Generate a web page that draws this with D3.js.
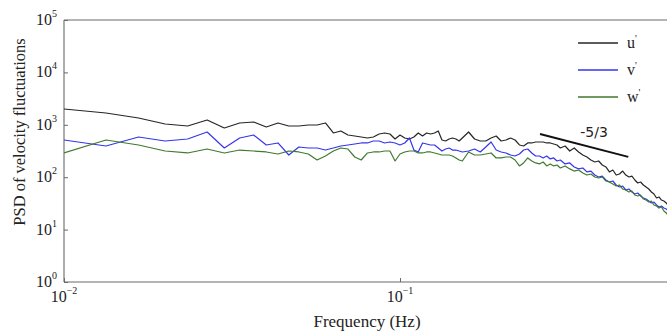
<!DOCTYPE html>
<html>
<head>
<meta charset="utf-8">
<script src="https://cdn.jsdelivr.net/npm/d3@7"></script>
<style>
  body { margin: 0; background: #fff; }
  svg { display: block; }
</style>
</head>
<body>
<svg id="chart" width="667" height="335"></svg>
<script>
// Spectral estimate frequencies (Hz)
const freqs = [
  0.01, 0.01333, 0.01667, 0.02, 0.02333, 0.02667, 0.03, 0.03333, 0.03667, 0.04,
  0.04333, 0.04667, 0.05, 0.05333, 0.05667, 0.06, 0.06333, 0.06667, 0.07, 0.07333,
  0.07667, 0.08, 0.08333, 0.08667, 0.09, 0.09333, 0.09667, 0.1, 0.1033, 0.1067,
  0.11, 0.1133, 0.1167, 0.12, 0.1233, 0.1267, 0.13, 0.1333, 0.1367, 0.14,
  0.1433, 0.1467, 0.15, 0.1533, 0.16, 0.1667, 0.1733, 0.18, 0.1867, 0.1933,
  0.2, 0.2067, 0.2133, 0.22, 0.2267, 0.2333, 0.24, 0.2467, 0.2533, 0.26,
  0.2667, 0.2733, 0.28, 0.2867, 0.2933, 0.3, 0.31, 0.32, 0.33, 0.34,
  0.35, 0.36, 0.37, 0.38, 0.39, 0.4, 0.41, 0.42, 0.43, 0.44,
  0.45, 0.46, 0.47, 0.48, 0.49, 0.5, 0.51, 0.52, 0.53, 0.54,
  0.55, 0.56, 0.57, 0.58, 0.59, 0.6, 0.61, 0.62, 0.63
];

// PSD of u' fluctuations
const psdU = [
  2002, 1680, 1349, 1036, 949, 1235, 869, 1083, 1131, 908,
  1083, 949, 949, 991, 991, 1083, 698, 762, 638, 611,
  585, 560, 585, 667, 698, 667, 536, 638, 560, 536,
  585, 698, 611, 698, 667, 698, 762, 513, 491, 536,
  560, 536, 491, 560, 729, 536, 491, 491, 560, 611,
  491, 513, 560, 513, 412, 394, 450, 450, 470, 470,
  470, 450, 450, 430, 412, 361, 394, 316, 361, 303,
  265, 243, 213, 195, 204, 171, 157, 126, 137, 110,
  115, 131, 110, 101, 105, 88.4, 77.5, 81.0, 71.0, 65.0,
  59.5, 52.2, 47.8, 40.1, 41.9, 36.7, 35.1, 32.2, 28.2
];

// PSD of v' fluctuations
const psdV = [
  513, 394, 585, 491, 536, 729, 361, 560, 638, 412,
  450, 265, 377, 361, 361, 330, 361, 394, 412, 430,
  450, 450, 491, 491, 450, 470, 450, 412, 450, 560,
  330, 303, 450, 430, 412, 412, 361, 316, 345, 361,
  330, 330, 316, 303, 316, 345, 303, 377, 470, 330,
  303, 290, 265, 254, 277, 330, 345, 290, 254, 254,
  233, 254, 223, 233, 204, 213, 179, 187, 157, 144,
  150, 126, 131, 110, 101, 105, 88.4, 81.0, 84.6, 71.0,
  65.0, 67.9, 57.0, 59.5, 52.2, 47.8, 49.9, 43.8, 40.1, 38.4,
  35.1, 32.2, 33.6, 29.5, 27.0, 28.2, 25.8, 24.7, 22.7
];

// PSD of w' fluctuations
const psdW = [
  290, 513, 412, 316, 290, 345, 290, 330, 316, 303,
  277, 316, 303, 277, 213, 254, 316, 361, 345, 243,
  213, 290, 303, 303, 316, 316, 204, 277, 303, 316,
  316, 290, 290, 303, 303, 290, 277, 265, 265, 265,
  254, 233, 213, 204, 303, 265, 265, 277, 290, 233,
  233, 243, 243, 213, 164, 187, 233, 204, 187, 179,
  195, 164, 179, 164, 171, 150, 164, 144, 131, 137,
  120, 110, 115, 101, 96.5, 101, 84.6, 81.0, 74.2, 67.9,
  71.0, 59.5, 57.0, 52.2, 54.5, 45.7, 43.8, 45.7, 38.4, 36.7,
  33.6, 35.1, 29.5, 28.2, 25.8, 27.0, 22.7, 20.8, 18.2
];

const seriesLabels = ["u", "v", "w"];
const seriesColors = ["#262626", "#3535ee", "#3f7a2e"];
const yTickExponents = [0, 1, 2, 3, 4, 5];
const xTickExponents = [-2, -1];
const slopeText = "-5/3";
const slopeValue = -5 / 3;
const slopeFreqs = [0.261, 0.478];
const slopeStartPsd = 670;

const svg = d3.select("#chart");
const W = 667, H = 335;
const plot = { left: 64, top: 20, bottom: 282 };

const x = d3.scaleLog().domain([0.01, 1]).range([plot.left, plot.left + 672]);
const y = d3.scaleLog().domain([1, 1e5]).range([plot.bottom, plot.top]);

svg.append("rect").attr("width", W).attr("height", H).attr("fill", "#fff");

svg.append("defs").append("clipPath").attr("id", "plotClip")
  .append("rect")
  .attr("x", plot.left).attr("y", plot.top)
  .attr("width", W - plot.left).attr("height", plot.bottom - plot.top);

// Frame: left, bottom and top spines
const frame = svg.append("g").attr("stroke", "#6a6a6a").attr("stroke-width", 1.1).attr("fill", "none");
frame.append("line").attr("x1", plot.left).attr("x2", plot.left).attr("y1", plot.top).attr("y2", plot.bottom);
frame.append("line").attr("x1", plot.left).attr("x2", W).attr("y1", plot.bottom).attr("y2", plot.bottom);
frame.append("line").attr("x1", plot.left).attr("x2", W).attr("y1", plot.top).attr("y2", plot.top);

// Axes with inward ticks; labels drawn separately as powers of ten
const yAxis = d3.axisLeft(y).tickValues(yTickExponents.map(e => Math.pow(10, e)))
  .tickSizeInner(-4).tickSizeOuter(0).tickFormat("");
const yg = svg.append("g").attr("transform", `translate(${plot.left},0)`).call(yAxis);
const xAxis = d3.axisBottom(x).tickValues(xTickExponents.map(e => Math.pow(10, e)))
  .tickSizeInner(-4).tickSizeOuter(0).tickFormat("");
const xg = svg.append("g").attr("transform", `translate(0,${plot.bottom})`).call(xAxis);
[yg, xg].forEach(g => {
  g.select(".domain").remove();
  g.selectAll(".tick line").attr("stroke", "#6a6a6a");
});

const serif = "'Liberation Serif', 'Times New Roman', serif";

function powerLabel(sel, exp) {
  sel.append("tspan").text("10");
  sel.append("tspan").attr("font-size", 10).attr("dy", -8)
    .text(exp < 0 ? "\u2212" + Math.abs(exp) : String(exp));
}

yTickExponents.forEach(e => {
  const t = svg.append("text")
    .attr("x", 57).attr("y", y(Math.pow(10, e)) + 5)
    .attr("text-anchor", "end")
    .attr("font-family", serif).attr("font-size", 16).attr("fill", "#222");
  powerLabel(t, e);
});

xTickExponents.forEach(e => {
  const t = svg.append("text")
    .attr("x", x(Math.pow(10, e))).attr("y", 302)
    .attr("text-anchor", "middle")
    .attr("font-family", serif).attr("font-size", 16).attr("fill", "#222");
  powerLabel(t, e);
});

svg.append("text")
  .attr("x", 367).attr("y", 327)
  .attr("text-anchor", "middle")
  .attr("font-family", serif).attr("font-size", 17).attr("fill", "#222")
  .text("Frequency (Hz)");

svg.append("text")
  .attr("transform", "translate(25,132) rotate(-90)")
  .attr("text-anchor", "middle")
  .attr("font-family", serif).attr("font-size", 16.5).attr("fill", "#222")
  .text("PSD of velocity fluctuations");

// Spectra
const line = d3.line().x(d => x(d[0])).y(d => y(d[1]));
const series = [psdU, psdV, psdW];
const lines = svg.append("g").attr("clip-path", "url(#plotClip)");
series.forEach((vals, i) => {
  lines.append("path")
    .datum(freqs.map((f, j) => [f, vals[j]]))
    .attr("fill", "none")
    .attr("stroke", seriesColors[i])
    .attr("stroke-width", 1.2)
    .attr("stroke-linejoin", "round")
    .attr("d", line);
});

// Reference slope for the inertial subrange
const slopePts = slopeFreqs.map(f => [f, slopeStartPsd * Math.pow(f / slopeFreqs[0], slopeValue)]);
svg.append("path")
  .datum(slopePts)
  .attr("fill", "none").attr("stroke", "#111").attr("stroke-width", 2)
  .attr("d", line);
svg.append("text")
  .attr("x", 594).attr("y", 137)
  .attr("text-anchor", "middle")
  .attr("font-family", "'DejaVu Sans', sans-serif").attr("font-size", 14).attr("fill", "#222")
  .text(slopeText);

// Legend
const legendRows = [43, 70, 97];
seriesLabels.forEach((lab, i) => {
  const yy = legendRows[i];
  svg.append("line")
    .attr("x1", 578).attr("x2", 618).attr("y1", yy).attr("y2", yy)
    .attr("stroke", seriesColors[i]).attr("stroke-width", 1.3);
  const t = svg.append("text")
    .attr("x", 627).attr("y", yy + 5)
    .attr("font-family", serif).attr("font-size", 16).attr("fill", "#222");
  t.append("tspan").text(lab);
  t.append("tspan").attr("font-size", 10).attr("dy", -6).text("'");
});
</script>
</body>
</html>
